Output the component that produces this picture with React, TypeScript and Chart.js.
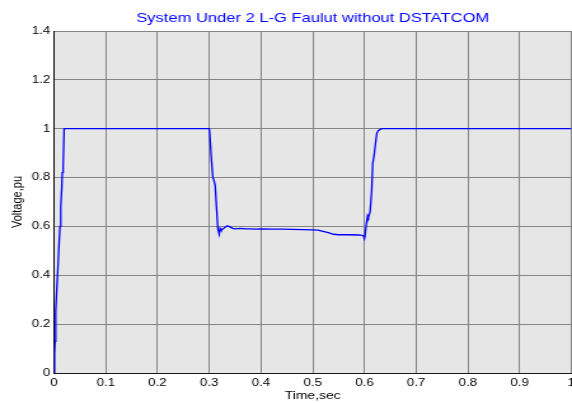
import React, { useEffect, useRef } from "react";
import { Chart, registerables } from "chart.js";

Chart.register(...registerables);

const titleText = "System Under 2 L-G Faulut without DSTATCOM";
const xLabel = "Time,sec";
const yLabel = "Voltage,pu";

const timeSec = [
  0, 0.001, 0.002, 0.003, 0.0035, 0.005, 0.007, 0.009, 0.0115, 0.013, 0.015, 0.016, 0.0175, 0.0195,
  0.3, 0.301, 0.304, 0.307, 0.309, 0.3116, 0.314, 0.3167, 0.3193, 0.321, 0.323, 0.326, 0.33, 0.335,
  0.34, 0.345, 0.35, 0.36, 0.37, 0.38, 0.39, 0.4, 0.42, 0.44, 0.46, 0.48, 0.5, 0.51, 0.52, 0.53,
  0.54, 0.55, 0.57, 0.59, 0.598, 0.6, 0.601, 0.6032, 0.606, 0.6077, 0.611, 0.614, 0.616, 0.619,
  0.622, 0.6238, 0.627, 0.633, 1.0,
];

const voltagePu = [
  0, 0.08, 0.13, 0.2, 0.25, 0.33, 0.41, 0.5, 0.6, 0.68, 0.76, 0.82, 0.84, 1.0,
  1.0, 0.98, 0.88, 0.8, 0.79, 0.767, 0.68, 0.589, 0.568, 0.592, 0.585, 0.588, 0.596, 0.603,
  0.598, 0.592, 0.59, 0.592, 0.59, 0.59, 0.589, 0.59, 0.589, 0.589, 0.588, 0.587, 0.586, 0.585, 0.58, 0.575,
  0.568, 0.566, 0.566, 0.565, 0.562, 0.55, 0.56, 0.603, 0.644, 0.637, 0.66, 0.745, 0.856, 0.897,
  0.95, 0.98, 0.993, 1.0, 1.0,
];

const xTicks = [0, 0.1, 0.2, 0.3, 0.4, 0.5, 0.6, 0.7, 0.8, 0.9, 1];
const yTicks = [0, 0.2, 0.4, 0.6, 0.8, 1, 1.2, 1.4];

const FONT = "'Liberation Sans', Arial, Helvetica, sans-serif";

// The reference figure is stretched horizontally; draw narrower and stretch.
const OUT_W = 572;
const OUT_H = 403;
const STRETCH = 1.271;
const CW = Math.round(OUT_W / STRETCH);

const plotBg = {
  id: "plotBg",
  beforeDraw(chart: any) {
    const { ctx, chartArea } = chart;
    ctx.save();
    ctx.fillStyle = "#e6e6e6";
    ctx.fillRect(chartArea.left, chartArea.top, chartArea.right - chartArea.left, chartArea.bottom - chartArea.top);
    ctx.restore();
  },
};

const fmt = (v: number) => String(Math.round(v * 10) / 10);

export default function App() {
  const ref = useRef<HTMLCanvasElement | null>(null);

  useEffect(() => {
    document.body.style.margin = "0";
    const canvas = ref.current;
    if (!canvas) return;
    const data = timeSec.map((t, i) => ({ x: t, y: voltagePu[i] }));
    const chart = new Chart(canvas, {
      type: "line",
      data: {
        datasets: [
          {
            data,
            borderColor: "#0000ff",
            borderWidth: 1.3,
            pointRadius: 0,
            tension: 0,
            fill: false,
          },
        ],
      },
      options: {
        animation: false,
        responsive: false,
        maintainAspectRatio: false,
        devicePixelRatio: 1,
        layout: { padding: { left: 0, right: 0.5, top: 0, bottom: 0 } },
        plugins: {
          legend: { display: false },
          tooltip: { enabled: false },
          title: {
            display: true,
            text: titleText,
            color: "#0000ff",
            fullSize: false,
            font: { family: FONT, size: 13, weight: "normal" },
            padding: { top: 10.5, bottom: 4.9 },
          },
        },
        scales: {
          x: {
            type: "linear",
            min: 0,
            max: 1,
            afterBuildTicks: (s: any) => {
              s.ticks = xTicks.map((v) => ({ value: v }));
            },
            afterFit: (s: any) => {
              s.height = 30;
              s.paddingLeft = 0;
              s.paddingRight = 0;
            },
            ticks: {
              callback: (v: any) => fmt(Number(v)),
              color: "#000",
              font: { family: FONT, size: 10.5 },
              padding: 3.5,
              maxRotation: 0,
              autoSkip: false,
            },
            grid: { color: "#858585", lineWidth: 1, drawTicks: false },
            border: { color: "#1a1a1a", width: 1 },
            title: {
              display: true,
              text: xLabel,
              color: "#000",
              font: { family: FONT, size: 11 },
              padding: { top: 0, bottom: 0.5 },
            },
          },
          y: {
            type: "linear",
            min: 0,
            max: 1.4,
            afterBuildTicks: (s: any) => {
              s.ticks = yTicks.map((v) => ({ value: v }));
            },
            afterFit: (s: any) => {
              s.width = 42.5;
              s.paddingTop = 0;
              s.paddingBottom = 0;
            },
            ticks: {
              callback: (v: any) => fmt(Number(v)),
              color: "#000",
              font: { family: FONT, size: 10.5 },
              padding: 3,
              autoSkip: false,
            },
            grid: { color: "#858585", lineWidth: 1, drawTicks: false },
            border: { color: "#000", width: 1 },
            title: {
              display: true,
              text: yLabel,
              color: "#000",
              font: { family: FONT, size: 11 },
              padding: { top: 7, bottom: 0 },
            },
          },
        },
      },
      plugins: [plotBg],
    });
    return () => chart.destroy();
  }, []);

  return (
    <div style={{ width: OUT_W, height: OUT_H, overflow: "hidden", position: "relative" }}>
      <canvas
        ref={ref}
        width={CW}
        height={OUT_H}
        style={{
          display: "block",
          width: CW,
          height: OUT_H,
          transform: `scaleX(${OUT_W / CW})`,
          transformOrigin: "0 0",
        }}
      />
    </div>
  );
}
